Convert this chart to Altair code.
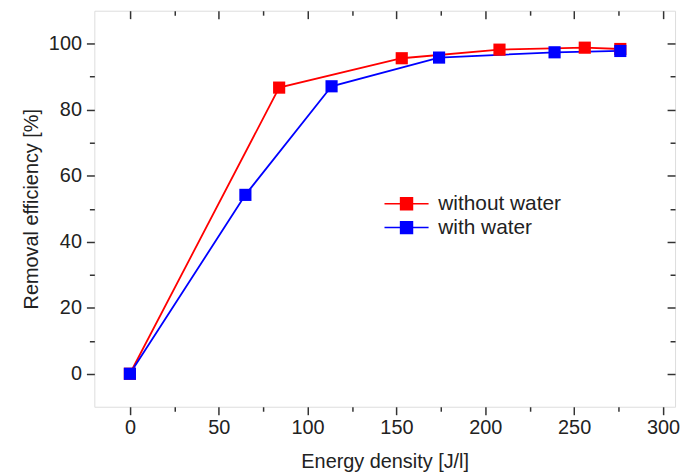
import altair as alt
import pandas as pd

# ---- data ----
series_names = ["without water", "with water"]
x_without = [0, 84, 153, 208, 256, 276]
y_without = [0, 86.7, 95.6, 98.2, 98.8, 98.4]
x_with = [0, 65, 113.5, 174, 239, 276]
y_with = [0, 54.2, 87.1, 95.8, 97.4, 97.8]
x_ticks = [0, 25, 50, 75, 100, 125, 150, 175, 200, 225, 250, 275, 300]
y_ticks = [0, 10, 20, 30, 40, 50, 60, 70, 80, 90, 100]
series_colors = ["#ff0000", "#0000ff"]

rows = []
for name, xs, ys in [(series_names[0], x_without, y_without),
                     (series_names[1], x_with, y_with)]:
    for xv, yv in zip(xs, ys):
        rows.append({"energy": xv, "eff": yv, "series": name})
df = pd.DataFrame(rows)

W, H = 585, 399
FONT = "Liberation Sans"
TXT = "#222222"
AX = "#333333"

xscale = alt.Scale(domain=[-20, 306.8], nice=False, zero=False)
yscale = alt.Scale(domain=[-10, 110], nice=False, zero=False)

tick_x = {"condition": {"test": "datum.value % 50 === 0", "value": 8}, "value": 4.5}
tick_y = {"condition": {"test": "datum.value % 20 === 0", "value": 8}, "value": 5}

common = dict(grid=False, domain=False, tickColor=AX, tickWidth=1.5,
              labelFont=FONT, labelFontSize=20, labelColor=TXT,
              titleFont=FONT, titleFontSize=20, titleColor=TXT,
              titleFontWeight="normal")

x_main = alt.Axis(orient="bottom", values=x_ticks, tickSize=tick_x,
                  labelExpr="datum.value % 50 === 0 ? datum.label : ''",
                  labelPadding=3, titlePadding=14, labelFlush=False,
                  title="Energy density [J/l]", **common)
y_main = alt.Axis(orient="left", values=y_ticks, tickSize=tick_y,
                  labelExpr="datum.value % 20 === 0 ? datum.label : ''",
                  labelPadding=5, titlePadding=7,
                  title="Removal efficiency [%]", **common)
x_mirror = alt.Axis(orient="bottom", offset=-H, values=x_ticks, tickSize=tick_x,
                    labels=False, title="", grid=False, domain=False,
                    tickColor=AX, tickWidth=1.5)
y_mirror = alt.Axis(orient="left", offset=-W, values=y_ticks, tickSize=tick_y,
                    labels=False, title="", grid=False, domain=False,
                    tickColor=AX, tickWidth=1.5)

legend = alt.Legend(
    title=None, orient="none", legendX=304, legendY=184,
    symbolType="M-3.7,0H-1M1,0H3.7M-1,-1H1V1H-1Z",
    symbolSize=144, symbolStrokeWidth=1.5,
    labelFont=FONT, labelFontSize=21, labelColor=TXT,
    labelOffset=21.5, rowPadding=2, padding=0,
)
color = alt.Color("series:N", scale=alt.Scale(domain=series_names, range=series_colors),
                  legend=legend)

lines = alt.Chart(df).mark_line(strokeWidth=1.8).encode(
    x=alt.X("energy:Q", scale=xscale, axis=x_main),
    y=alt.Y("eff:Q", scale=yscale, axis=y_main),
    color=color,
)
points = alt.Chart(df).mark_point(shape="square", filled=True, size=150, opacity=1).encode(
    x=alt.X("energy:Q", scale=xscale, axis=x_mirror),
    y=alt.Y("eff:Q", scale=yscale, axis=y_mirror),
    color=color,
)

chart = alt.layer(lines, points).resolve_axis(
    x="independent", y="independent"
).properties(
    width=W, height=H,
    padding={"left": 13, "top": 0, "right": 0, "bottom": 0},
    background="white",
).configure_view(stroke=AX, strokeWidth=1.5).configure(font=FONT)

chart.save("out.html", embed_options={"renderer": "svg", "actions": False})
